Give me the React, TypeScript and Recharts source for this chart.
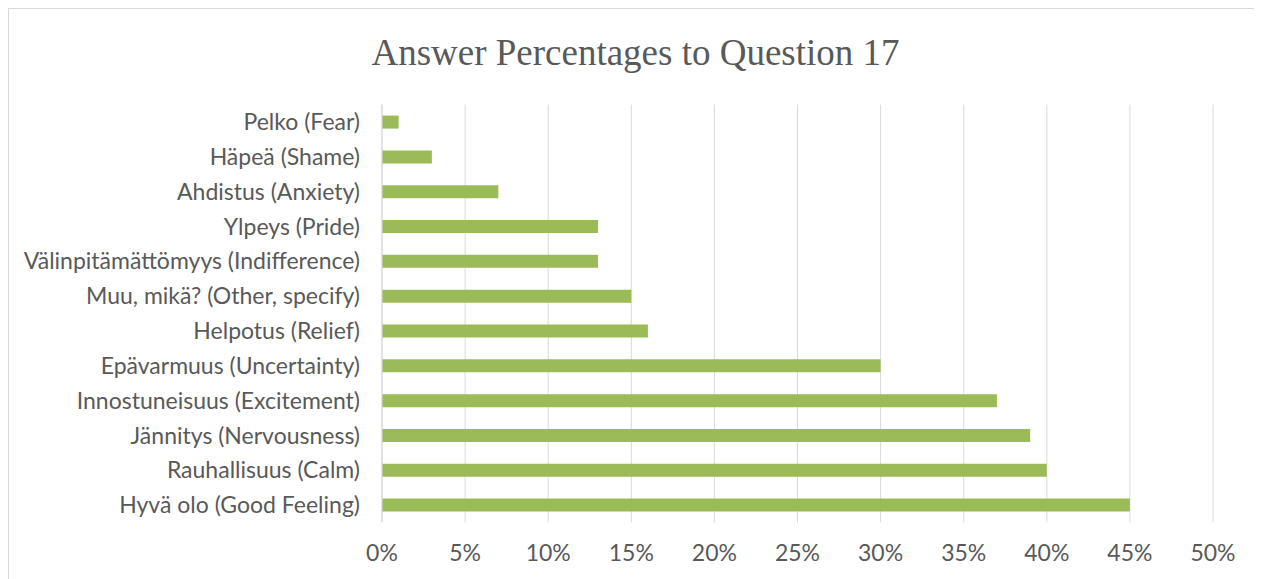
import React from "react";
import { BarChart, Bar, XAxis, YAxis, CartesianGrid } from "recharts";

const categories = [
  "Pelko (Fear)",
  "Häpeä (Shame)",
  "Ahdistus (Anxiety)",
  "Ylpeys (Pride)",
  "Välinpitämättömyys (Indifference)",
  "Muu, mikä? (Other, specify)",
  "Helpotus (Relief)",
  "Epävarmuus (Uncertainty)",
  "Innostuneisuus (Excitement)",
  "Jännitys (Nervousness)",
  "Rauhallisuus (Calm)",
  "Hyvä olo (Good Feeling)",
];
const percentages = [1, 3, 7, 13, 13, 15, 16, 30, 37, 39, 40, 45];
const xTicks = [0, 5, 10, 15, 20, 25, 30, 35, 40, 45, 50];
const title = "Answer Percentages to Question 17";

const data = categories.map((name, i) => ({ name, value: percentages[i] }));

const textColor = "#595959";
const gridColor = "#d9d9d9";
const font = "Lato, 'Open Sans', sans-serif";

export default function App() {
  React.useEffect(() => {
    document.body.style.overflow = "hidden";
  }, []);
  return (
    <div
      style={{
        position: "relative",
        width: 1260,
        height: 580,
        borderTop: `1px solid ${gridColor}`,
        borderLeft: `1px solid ${gridColor}`,
        background: "#fff",
      }}
    >
      <div
        style={{
          position: "absolute",
          left: 0,
          top: 24,
          width: 1253,
          textAlign: "center",
          fontFamily: "'Liberation Serif', 'Times New Roman', serif",
          fontSize: 37,
          color: textColor,
          lineHeight: "40px",
        }}
      >
        {title}
      </div>
      <BarChart
        width={1253}
        height={570}
        data={data}
        layout="vertical"
        margin={{ top: 95.6, right: 49, bottom: 26.6, left: 0 }}
      >
        <CartesianGrid horizontal={false} vertical={true} stroke={gridColor} strokeWidth={1} />
        <XAxis
          type="number"
          domain={[0, 50]}
          ticks={xTicks}
          tickFormatter={(v: number) => `${v}%`}
          axisLine={false}
          tickLine={false}
          tickSize={0}
          tickMargin={22}
          interval={0}
          height={30}
          tick={{ fill: textColor, fontSize: 23, fontFamily: font }}
        />
        <YAxis
          type="category"
          dataKey="name"
          width={373}
          axisLine={{ stroke: gridColor }}
          tickLine={false}
          tickSize={0}
          tickMargin={22}
          interval={0}
          tick={{ fill: textColor, fontSize: 23, fontFamily: font }}
        />
        <Bar dataKey="value" fill="#9BBB59" barSize={13} isAnimationActive={false} />
      </BarChart>
    </div>
  );
}
